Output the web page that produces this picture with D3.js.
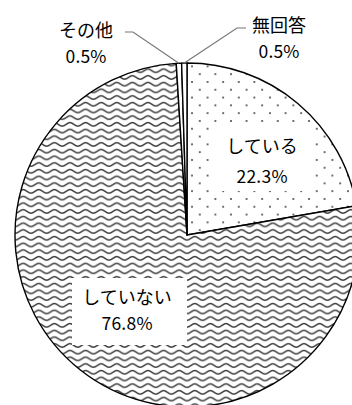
<!DOCTYPE html>
<html><head><meta charset="utf-8">
<script src="https://cdn.jsdelivr.net/npm/d3@7"></script>
<style>
html,body{margin:0;padding:0;background:#fff;overflow:hidden;}
text{font-family:"Noto Sans CJK JP","Noto Sans",sans-serif;fill:#000;}
</style></head>
<body>
<svg id="chart" width="352" height="405"></svg>
<script>
// ---- data ----
const categories = ["している", "していない", "その他", "無回答"];
const values = [22.3, 76.8, 0.5, 0.5];
const valueLabels = ["22.3%", "76.8%", "0.5%", "0.5%"];
const patterns = ["dots", "wave", "white", "white"];

// ---- layout (positions, not data) ----
const W = 352, H = 405;
const cx = 187, cy = 235, R = 172;
const labelLayout = [
  {x: 262, y1: 145, y2: 175, box: [212, 127, 98, 64]},
  {x: 127, y1: 296, y2: 322, box: [72, 278, 115, 67]},
  {x: 86,  y1: 29,  y2: 55,  leader: [125, 32, 133, 32]},
  {x: 279, y1: 24,  y2: 50,  leader: [246, 28, 237, 28]}
];

const svg = d3.select("#chart");
const defs = svg.append("defs");

// dot pattern
const pd = defs.append("pattern").attr("id", "dots")
  .attr("patternUnits", "userSpaceOnUse").attr("width", 15.6).attr("height", 15.6)
  .attr("x", 3).attr("y", 1);
pd.append("rect").attr("width", 15.6).attr("height", 15.6).attr("fill", "#fff");
pd.append("circle").attr("cx", 2).attr("cy", 2).attr("r", 0.95).attr("fill", "#333");
pd.append("circle").attr("cx", 9.8).attr("cy", 9.8).attr("r", 0.95).attr("fill", "#333");

// wave pattern
const pw = defs.append("pattern").attr("id", "wave")
  .attr("patternUnits", "userSpaceOnUse").attr("width", 15.6).attr("height", 6.7)
  .attr("x", 0).attr("y", 0);
pw.append("rect").attr("width", 15.6).attr("height", 6.7).attr("fill", "#fff");
pw.append("path")
  .attr("d", "M-0.5,5.1 C3,5.1 4.8,1.5 7.8,1.5 C10.8,1.5 12.6,5.1 16.1,5.1")
  .attr("fill", "none").attr("stroke", "#3a3a3a").attr("stroke-width", 1.5);

const fillFor = p => p === "white" ? "#fff" : `url(#${p})`;

const pie = d3.pie().sort(null).value(d => d)(values);
const arc = d3.arc().innerRadius(0).outerRadius(R);

const g = svg.append("g").attr("transform", `translate(${cx},${cy})`);
g.selectAll("path.slice").data(pie).join("path")
  .attr("class", "slice")
  .attr("d", arc)
  .attr("fill", (d, i) => fillFor(patterns[i]))
  .attr("stroke", "#000").attr("stroke-width", 1.4)
  .attr("stroke-linejoin", "round");

// leader lines to the slices' outer edge
const edgeArc = d3.arc().innerRadius(R).outerRadius(R);
categories.forEach((c, i) => {
  const L = labelLayout[i];
  if (!L.leader) return;
  const [ex, ey] = edgeArc.centroid(pie[i]);
  svg.append("polyline")
    .attr("points", [[L.leader[0], L.leader[1]], [L.leader[2], L.leader[3]], [cx + ex, cy + ey]].map(p => p.join(",")).join(" "))
    .attr("fill", "none").attr("stroke", "#777").attr("stroke-width", 1.2);
});

// labels
categories.forEach((c, i) => {
  const L = labelLayout[i];
  if (L.box) {
    svg.append("rect").attr("x", L.box[0]).attr("y", L.box[1])
      .attr("width", L.box[2]).attr("height", L.box[3]).attr("fill", "#fff");
  }
  svg.append("text").attr("x", L.x).attr("y", L.y1)
    .attr("text-anchor", "middle").attr("dominant-baseline", "central")
    .attr("font-size", 18).text(c);
  const lbl = valueLabels[i];
  svg.append("text").attr("x", L.x).attr("y", L.y2)
    .attr("text-anchor", "middle").attr("dominant-baseline", "central")
    .attr("font-size", 17.5)
    .attr("textLength", lbl.length * 10.2)
    .attr("lengthAdjust", "spacing")
    .text(lbl);
});
</script>
</body></html>
